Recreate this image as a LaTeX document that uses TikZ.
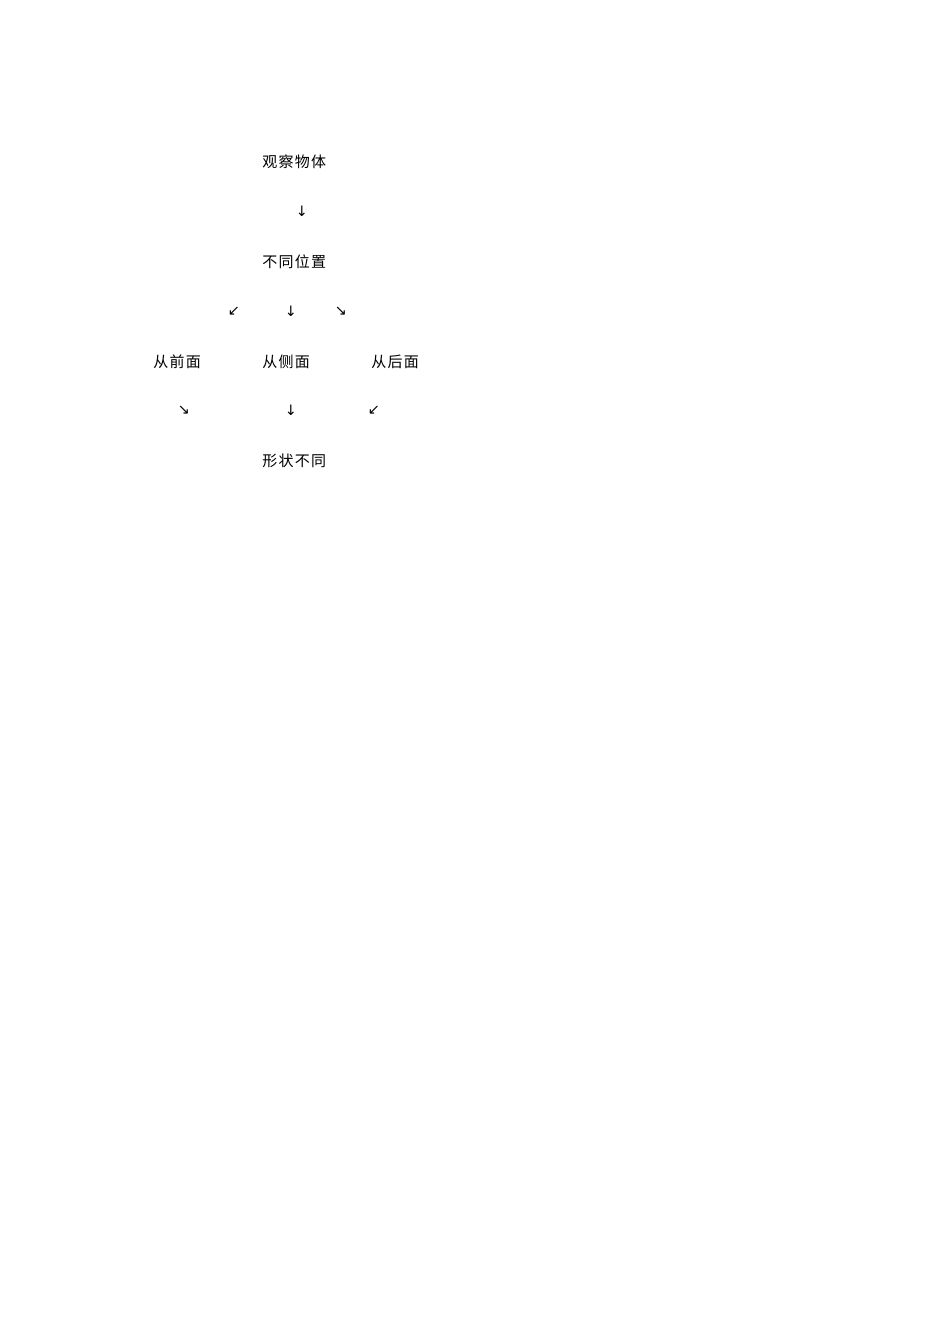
\documentclass[tikz,border=0pt]{standalone}
\usepackage{fontspec}
\newfontfamily\cjk{Noto Sans CJK SC}
\newfontfamily\arrowfont{DejaVu Sans}
\begin{document}
\begin{tikzpicture}[x=0.6266pt,y=-0.6266pt,
  label/.style={inner sep=0pt,anchor=west,font=\cjk\fontsize{9.4pt}{11pt}\selectfont},
  arr/.style={inner sep=0pt,anchor=center,font=\arrowfont\fontsize{9pt}{10pt}\selectfont}]
\fill[white] (0,0) rectangle (950,1344);
\useasboundingbox (0,0) rectangle (950,1344);
\node[label] (top) at (262,162) {观\kern0.8pt 察\kern0.8pt 物\kern0.8pt 体};
\node[arr] (a1) at (302,211) {↓};
\node[label] (pos) at (262,262) {不\kern0.8pt 同\kern0.8pt 位\kern0.8pt 置};
\node[arr] (a2) at (234,311) {↙};
\node[arr] (a3) at (291,311) {↓};
\node[arr] (a4) at (341,311) {↘};
\node[label] (front) at (153,362) {从\kern0.8pt 前\kern0.8pt 面};
\node[label] (side) at (262,362) {从\kern0.8pt 侧\kern0.8pt 面};
\node[label] (back) at (371,362) {从\kern0.8pt 后\kern0.8pt 面};
\node[arr] (a5) at (184,410) {↘};
\node[arr] (a6) at (291,410) {↓};
\node[arr] (a7) at (374,410) {↙};
\node[label] (shape) at (262,461) {形\kern0.8pt 状\kern0.8pt 不\kern0.8pt 同};
\end{tikzpicture}
\end{document}
